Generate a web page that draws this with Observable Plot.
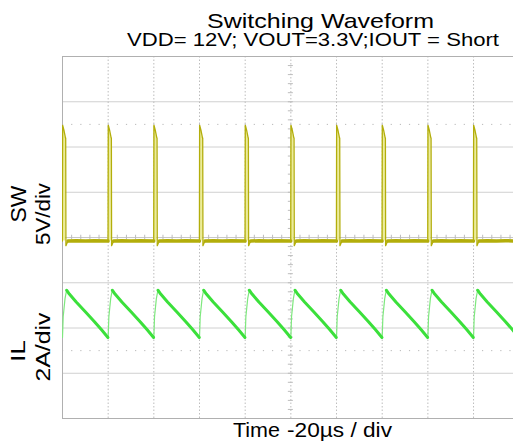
<!DOCTYPE html>
<html><head><meta charset="utf-8">
<script src="https://cdn.jsdelivr.net/npm/d3@7"></script>
<script src="https://cdn.jsdelivr.net/npm/@observablehq/plot@0.6"></script>
<style>html,body{margin:0;padding:0;background:#fff;overflow:hidden}</style>
</head><body><div id="chart"></div>
<script>
// ---- data ----
// time in µs (20 µs / div), switching edges at every division
const cycleStartsUs = [0, 20, 40, 60, 80, 100, 120, 140, 160, 180];
// SW pulse shape (µs after the rising edge, volts) – 5 V/div
const swPulseT = [-0.05, 0.05, 0.6, 1.3, 1.4, 1.5, 2.0, 2.6];
const swPulseV = [-0.4, 12.4, 11.9, 11.0, 11.0, -0.9, -0.6, -0.4];
// SW low level (baseline) between pulses
const swBaseT = [2.4, 6, 10, 14, 19.95];
const swBaseV = [-0.4, -0.35, -0.4, -0.35, -0.4];
// inductor current IL (µs after the edge, amps) – 2 A/div
const ilRiseT = [0, 0.3, 1.1, 1.8];
const ilRiseA = [1.58, 2.5, 3.3, 3.67];
const ilFallT = [1.8, 3, 6, 10, 14, 17, 19.9];
const ilFallA = [3.67, 3.5, 3.15, 2.72, 2.28, 1.93, 1.58];
// screen layout in divisions
const swZeroDiv = 0, swVoltsPerDiv = 5;
const ilZeroDiv = -3, ilAmpsPerDiv = 2;
const hGridDiv = [-3, -2, -1, 1, 2, 3];
const vGridUs = [20, 40, 60, 80, 100, 120, 140, 160, 180];
const cursorDiv = [2.5, -2.5];

// ---- tables built from the arrays ----
const swPulse = [], swFill = [], swBase = [], ilRise = [], ilFall = [];
cycleStartsUs.forEach((c, i) => {
  swPulseT.forEach((t, j) => swPulse.push({cycle: i, t: c + t, d: swZeroDiv + swPulseV[j] / swVoltsPerDiv}));
  swPulseT.slice(1, 5).forEach((t, j) => swFill.push({cycle: i, t: c + t, lo: swZeroDiv + swBaseV[0] / swVoltsPerDiv, hi: swZeroDiv + swPulseV[j + 1] / swVoltsPerDiv}));
  swBaseT.forEach((t, j) => swBase.push({cycle: i, t: c + t, d: swZeroDiv + swBaseV[j] / swVoltsPerDiv}));
  ilRiseT.forEach((t, j) => ilRise.push({cycle: i, t: c + t, d: ilZeroDiv + ilRiseA[j] / ilAmpsPerDiv}));
  ilFallT.forEach((t, j) => ilFall.push({cycle: i, t: c + t, d: ilZeroDiv + ilFallA[j] / ilAmpsPerDiv}));
});
const minorY = d3.range(-4, 4.001, 0.2);
const minorX = d3.range(0, 200.001, 4);

const swColor = "#b3ae0b", ilColor = "#3be03b";

const chart = Plot.plot({
  width: 513, height: 445,
  marginLeft: 62, marginRight: 0, marginTop: 56, marginBottom: 27,
  x: {domain: [0, 197.5], axis: null},
  y: {domain: [-4, 4], axis: null},
  style: {background: "white", fontFamily: "Liberation Sans, Arial, sans-serif"},
  marks: [
    Plot.ruleY(hGridDiv, {stroke: "#d0d0d0", strokeWidth: 1}),
    Plot.ruleY([0], {stroke: "#c8c8c8", strokeWidth: 1}),
    Plot.ruleX(vGridUs, {stroke: "#bdbdbd", strokeDasharray: "1.5,2"}),
    Plot.ruleY(cursorDiv, {stroke: "#b8b8b8", strokeDasharray: "1.2,7.93"}),
    Plot.ruleX(minorX, {y1: -0.05, y2: 0.05, stroke: "#bdbdbd"}),
    Plot.ruleY(minorY, {x1: 98.9, x2: 101.1, stroke: "#bdbdbd"}),
    Plot.ruleY([4, -4], {stroke: "#b0b0b0"}),
    Plot.ruleX([0], {stroke: "#b0b0b0"}),
    Plot.areaY(swFill, {x: "t", y1: "lo", y2: "hi", z: "cycle", fill: "#ecec9a", clip: true}),
    Plot.line(swBase, {x: "t", y: "d", z: "cycle", stroke: swColor, strokeWidth: 3.5, clip: true}),
    Plot.line(swPulse, {x: "t", y: "d", z: "cycle", stroke: swColor, strokeWidth: 1.3, clip: true}),
    Plot.line(ilRise, {x: "t", y: "d", z: "cycle", stroke: "#7ee87e", strokeWidth: 1.2, clip: true}),
    Plot.line(ilFall, {x: "t", y: "d", z: "cycle", stroke: ilColor, strokeWidth: 3, clip: true})
  ]
});
document.getElementById("chart").appendChild(chart);

const svg = d3.select(chart);
const font = "Liberation Sans, Arial, sans-serif";
function label(txt, x, y, size, len, rot) {
  const t = svg.append("text").text(txt)
    .attr("font-family", font).attr("font-size", size).attr("fill", "#000")
    .attr("textLength", len).attr("lengthAdjust", "spacingAndGlyphs");
  if (rot) t.attr("text-anchor", "middle").attr("transform", `translate(${x},${y}) rotate(-90)`);
  else t.attr("text-anchor", "start").attr("x", x).attr("y", y);
}
label("Switching Waveform", 207, 28, 21, 227);
label("VDD= 12V; VOUT=3.3V;IOUT = Short", 127, 46, 18, 372);
label("Time", 233, 437, 19.5, 47);
label("-20µs / div", 287, 437, 19.5, 105);
label("SW", 26, 204, 22, 37, true);
label("5V/div", 50, 214, 21, 62, true);
label("IL", 25, 351, 21, 22, true);
label("2A/div", 50, 347, 21, 69, true);
</script>
</body></html>
